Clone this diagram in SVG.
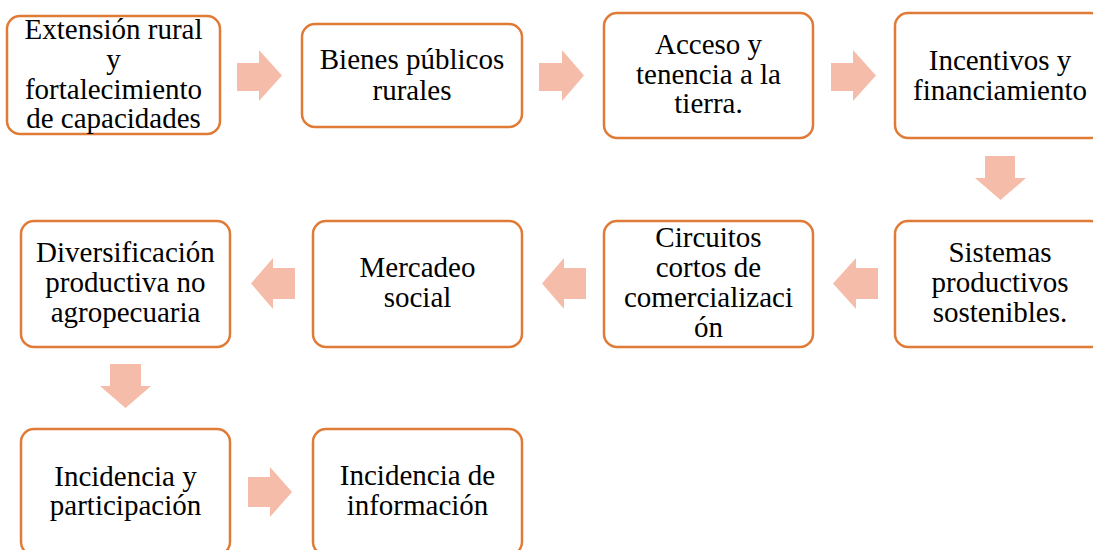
<svg xmlns="http://www.w3.org/2000/svg" width="1093" height="550" viewBox="0 0 1093 550">
<style>
.box{fill:#ffffff;stroke:#E07A37;stroke-width:2.5}
.arr{fill:#F5BDA9;stroke:none}
.t{font-size:29px;fill:#000000;text-anchor:middle}
</style>
<rect width="1093" height="550" fill="#ffffff"/>
<g id="connectors">
<polygon class="arr" points="237,63 259,63 259,50 282,75.5 259,101 259,91 237,91"/>
<polygon class="arr" points="539,63 562,63 562,50 584,75.5 562,101 562,91 539,91"/>
<polygon class="arr" points="831,63 853,63 853,50 876,75.5 853,101 853,91 831,91"/>
<polygon class="arr" points="985,156 1015,156 1015,178 1026,178 1000.5,200 975,178 985,178"/>
<polygon class="arr" points="878,268 856,268 856,258 833,283.5 856,309 856,299 878,299"/>
<polygon class="arr" points="586,268 564,268 564,258 542,283.5 564,309 564,299 586,299"/>
<polygon class="arr" points="295,268 273,268 273,258 251,283.5 273,309 273,299 295,299"/>
<polygon class="arr" points="110,364 141,364 141,386 151,386 125.5,408 100,386 110,386"/>
<polygon class="arr" points="248,477 270,477 270,467 292,492 270,517 270,507 248,507"/>
</g>
<g font-family="'Liberation Serif', Tinos, 'Times New Roman', 'DejaVu Serif', serif">
<g id="n1">
<rect class="box" x="7" y="16" width="213" height="118" rx="13"/>
<text class="t" x="113.5" y="38.5">Extensión rural</text>
<text class="t" x="113.5" y="68.5">y</text>
<text class="t" x="113.5" y="98.5">fortalecimiento</text>
<text class="t" x="113.5" y="128">de capacidades</text>
</g>
<g id="n2">
<rect class="box" x="302" y="24" width="220" height="103" rx="13"/>
<text class="t" x="412" y="69">Bienes públicos</text>
<text class="t" x="412" y="99.5">rurales</text>
</g>
<g id="n3">
<rect class="box" x="604" y="13" width="209" height="125" rx="13"/>
<text class="t" x="708.5" y="54">Acceso y</text>
<text class="t" x="708.5" y="83.5">tenencia a la</text>
<text class="t" x="708.5" y="113">tierra.</text>
</g>
<g id="n4">
<rect class="box" x="895" y="13" width="209" height="125" rx="13"/>
<text class="t" x="1000" y="70">Incentivos y</text>
<text class="t" x="1000" y="100">financiamiento</text>
</g>
<g id="n5">
<rect class="box" x="895" y="221" width="209" height="126" rx="13"/>
<text class="t" x="1000" y="262">Sistemas</text>
<text class="t" x="1000" y="292">productivos</text>
<text class="t" x="1000" y="322">sostenibles.</text>
</g>
<g id="n6">
<rect class="box" x="604" y="221" width="209" height="126" rx="13"/>
<text class="t" x="708.5" y="247">Circuitos</text>
<text class="t" x="708.5" y="277">cortos de</text>
<text class="t" x="708.5" y="307">comercializaci</text>
<text class="t" x="708.5" y="337">ón</text>
</g>
<g id="n7">
<rect class="box" x="313" y="221" width="209" height="126" rx="13"/>
<text class="t" x="417.5" y="277">Mercadeo</text>
<text class="t" x="417.5" y="307">social</text>
</g>
<g id="n8">
<rect class="box" x="21" y="221" width="209" height="126" rx="13"/>
<text class="t" x="125.5" y="262">Diversificación</text>
<text class="t" x="125.5" y="292">productiva no</text>
<text class="t" x="125.5" y="322">agropecuaria</text>
</g>
<g id="n9">
<rect class="box" x="21" y="429" width="209" height="126" rx="13"/>
<text class="t" x="125.5" y="486">Incidencia y</text>
<text class="t" x="125.5" y="515">participación</text>
</g>
<g id="n10">
<rect class="box" x="313" y="429" width="209" height="126" rx="13"/>
<text class="t" x="417.5" y="485">Incidencia de</text>
<text class="t" x="417.5" y="515">información</text>
</g>
</g>
</svg>
